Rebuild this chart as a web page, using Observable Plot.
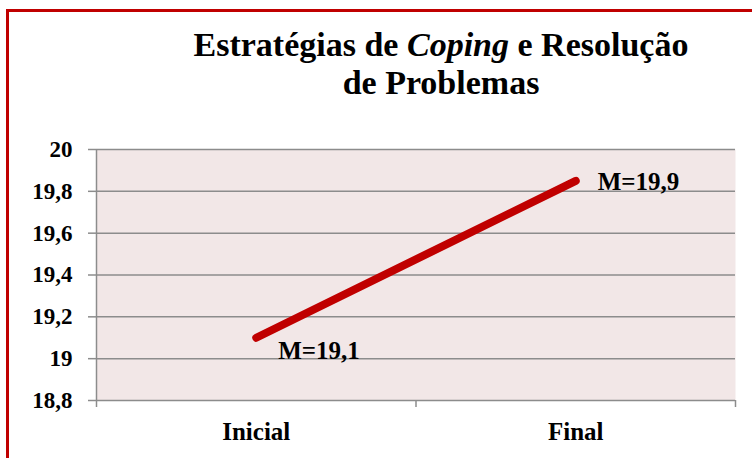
<!DOCTYPE html>
<html>
<head>
<meta charset="utf-8">
<script src="https://cdn.jsdelivr.net/npm/d3@7"></script>
<script src="https://cdn.jsdelivr.net/npm/@observablehq/plot@0.6"></script>
<style>
  body { margin: 0; background: #fff; }
  #wrap { position: relative; width: 752px; height: 458px; overflow: hidden; background: #fff; }
  #border { position: absolute; left: 6px; top: 9px; width: 800px; height: 500px; border: 3px solid #c00000; box-sizing: border-box; }
  #title { position: absolute; left: 0; top: 26px; width: 882px; text-align: center; font-family: "Liberation Serif", "Times New Roman", serif; font-weight: bold; font-size: 34px; line-height: 38px; color: #000; }
  #chart { position: absolute; left: 0; top: 0; }
  #chart svg, #chart svg text { font-family: "Liberation Serif", "Times New Roman", serif !important; font-weight: bold; fill: #000; }
</style>
</head>
<body>
<div id="wrap">
  <div id="border"></div>
  <div id="title">Estratégias de <i>Coping</i> e Resolução<br>de Problemas</div>
  <div id="chart"></div>
</div>
<script>
const categories = ["Inicial", "Final"];
const values = [19.1, 19.85];
const pointLabels = ["M=19,1", "M=19,9"];
const yTicks = [18.8, 19, 19.2, 19.4, 19.6, 19.8, 20];
const yTickLabels = ["18,8", "19", "19,2", "19,4", "19,6", "19,8", "20"];

const data = categories.map((c, i) => ({ idx: i + 0.5, cat: c, value: values[i], label: pointLabels[i] }));
const edges = d3.range(categories.length + 1);
const gridColor = "#8c8c8c";

const chart = Plot.plot({
  width: 752,
  height: 458,
  marginTop: 149,
  marginBottom: 58,
  marginLeft: 96,
  marginRight: 17,
  style: { background: "transparent", overflow: "visible" },
  x: { domain: [0, categories.length] },
  y: { domain: [18.8, 20] },
  marks: [
    Plot.frame({ fill: "#f2e7e7", stroke: null }),
    Plot.ruleY(yTicks, { stroke: gridColor, strokeWidth: 1.5 }),
    Plot.ruleX([0], { stroke: gridColor, strokeWidth: 1.5 }),
    Plot.axisY({
      ticks: yTicks,
      tickFormat: (d) => yTickLabels[yTicks.indexOf(d)],
      tickSize: 8,
      tickPadding: 16,
      stroke: gridColor,
      strokeWidth: 1.5,
      strokeOpacity: 1,
      fontSize: 23,
      label: null
    }),
    Plot.axisX({
      ticks: edges,
      tickFormat: () => "",
      tickSize: 7,
      stroke: gridColor,
      strokeWidth: 1.5,
      strokeOpacity: 1,
      label: null
    }),
    Plot.axisX({
      ticks: data.map(d => d.idx),
      tickFormat: d => categories[d - 0.5],
      tickSize: 0,
      tickPadding: 22,
      fontSize: 25,
      label: null
    }),
    Plot.line(data, { x: "idx", y: "value", stroke: "#c00000", strokeWidth: 8, strokeLinecap: "round" }),
    Plot.text(data.slice(0, 1), { x: "idx", y: "value", text: "label", textAnchor: "start", dx: 22, dy: 13, fontSize: 25 }),
    Plot.text(data.slice(1), { x: "idx", y: "value", text: "label", textAnchor: "start", dx: 22, dy: 1, fontSize: 25 })
  ]
});
document.getElementById("chart").appendChild(chart);
</script>
</body>
</html>
